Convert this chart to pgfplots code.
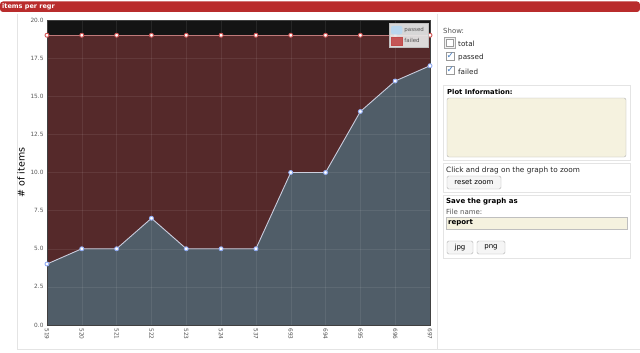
\documentclass[border=0pt]{standalone}
\usepackage{pgfplots}
\pgfplotsset{compat=1.18}
\usepackage{pgfplotstable}
\usepackage{fontspec}
\setmainfont{DejaVu Sans}
\definecolor{barred}{HTML}{B92C2C}
\definecolor{failcol}{HTML}{55292A}
\definecolor{passcol}{HTML}{505D68}
\definecolor{topblk}{HTML}{141414}
\definecolor{beige}{HTML}{F5F2DF}
\definecolor{panelline}{HTML}{E4E4E4}
\definecolor{txtgray}{HTML}{555555}
\definecolor{failline}{HTML}{C07A7A}
\definecolor{passline}{HTML}{C9CCDD}
\definecolor{checkblue}{HTML}{4A7FC0}
\definecolor{legpass}{HTML}{B7D7F0}
\definecolor{legfail}{HTML}{C24B4B}

\pgfplotstableread{
x passed total
0 4 19
1 5 19
2 5 19
3 7 19
4 5 19
5 5 19
6 5 19
7 10 19
8 10 19
9 14 19
10 16 19
11 17 19
}\data

\begin{document}
\begin{tikzpicture}[x=1pt,y=-1pt]
\useasboundingbox (0,0) rectangle (640,353);
\fill[white] (0,0) rectangle (640,353);
% title bar
\fill[barred, rounded corners=3pt] (0,1.5) rectangle (640,12);
\node[anchor=west, white, inner sep=0pt, font=\bfseries\fontsize{6.5}{7}\selectfont] at (2,7) {items per regr};
% panels
\draw[panelline] (17,14) -- (17,349) -- (437,349);
\draw[panelline] (437,14) -- (437,349);
\draw[panelline] (437,349) -- (640,349);

% axis
\begin{axis}[
  at={(47pt,-325pt)}, anchor=south west,
  scale only axis, width=383pt, height=305pt,
  xmin=0, xmax=11, ymin=0, ymax=20,
  axis background/.style={fill=topblk},
  axis line style={draw=black!75},
  axis on top,
  xtick={0,...,11},
  xticklabels={519,520,521,522,523,524,537,693,694,695,696,697},
  ytick={0,2.5,...,20},
  yticklabel style={/pgf/number format/.cd, fixed, fixed zerofill, precision=1},
  /pgf/number format/assume math mode=true,
  tick label style={font=\fontsize{5.8}{6}\selectfont, text=txtgray},
  xticklabel style={rotate=-90, anchor=west},
  major tick length=0pt,
  grid=major,
  major grid style={draw=white, opacity=0.08},
  ylabel={\# of items},
  ylabel style={font=\fontsize{9.5}{10}\selectfont, yshift=-1pt},
  legend style={at={(0.995,0.99)}, anchor=north east, fill=gray!18, fill opacity=0.92, text opacity=1, draw=gray!50, font=\fontsize{5.5}{6}\selectfont, text=txtgray, row sep=1pt, inner sep=2pt},
  legend cell align=left,
]
\addplot[fill=failcol, draw=none, forget plot] table[x=x, y=total] {\data} \closedcycle;
\addplot[fill=passcol, draw=none, forget plot] table[x=x, y=passed] {\data} \closedcycle;
\addplot[failline, line width=0.9pt, mark=*, mark size=2pt, mark options={fill=white, draw=failline!70!red}, forget plot, clip=false] table[x=x, y=total] {\data};
\addplot[passline, line width=0.9pt, mark=*, mark size=2pt, mark options={fill=white, draw=legpass!80!blue}, forget plot, clip=false] table[x=x, y=passed] {\data};
\addlegendimage{legend image code/.code={\fill[legpass, rounded corners=2pt] (0pt,-4pt) rectangle (11pt,4pt);}}
\addlegendentry{passed}
\addlegendimage{legend image code/.code={\fill[legfail] (0pt,-4pt) rectangle (11pt,4pt);}}
\addlegendentry{failed}
\end{axis}

% side panel
\node[anchor=west, inner sep=0pt, text=txtgray, font=\fontsize{7}{7}\selectfont] at (443,31) {Show:};
\draw[gray!70, fill=gray!10] (444,37) rectangle (455,48);
\draw[gray!80, fill=white] (446,39) rectangle (453,46);
\node[anchor=west, inner sep=0pt, font=\fontsize{7.2}{7}\selectfont, text=black!85] at (458,44) {total};
\draw[gray!80, fill=white] (446,52) rectangle (454,60);
\node[inner sep=0pt, text=checkblue, font=\fontsize{9}{9}\selectfont] at (450.5,55.5) {✓};
\node[anchor=west, inner sep=0pt, font=\fontsize{7.2}{7}\selectfont, text=black!85] at (458,58) {passed};
\draw[gray!80, fill=white] (446,66) rectangle (454,74);
\node[inner sep=0pt, text=checkblue, font=\fontsize{9}{9}\selectfont] at (450.5,69.5) {✓};
\node[anchor=west, inner sep=0pt, font=\fontsize{7.2}{7}\selectfont, text=black!85] at (458,72) {failed};

\draw[panelline] (443,85) rectangle (630,160);
\node[anchor=west, inner sep=0pt, font=\bfseries\fontsize{6.8}{7}\selectfont] at (447,92) {Plot Information:};
\draw[gray!60, fill=beige, rounded corners=2pt] (447,98) rectangle (626,157);

\draw[panelline] (443,163) rectangle (630,192);
\node[anchor=west, inner sep=0pt, font=\fontsize{7.3}{7}\selectfont, text=black!85] at (446,170.5) {Click and drag on the graph to zoom};
\draw[gray!60, fill=gray!8, rounded corners=1.5pt] (447,176) rectangle (501,189);
\node[inner sep=0pt, font=\fontsize{7}{7}\selectfont] at (474,182.5) {reset zoom};

\draw[panelline] (443,195) rectangle (630,258);
\node[anchor=west, inner sep=0pt, font=\bfseries\fontsize{7}{7}\selectfont] at (446,202) {Save the graph as};
\node[anchor=west, inner sep=0pt, text=txtgray, font=\fontsize{7}{7}\selectfont] at (446,212) {File name:};
\draw[gray!50, fill=beige] (446,217) rectangle (627,229);
\node[anchor=west, inner sep=0pt, font=\bfseries\fontsize{7}{7}\selectfont] at (448,223) {report};
\draw[gray!60, fill=gray!8, rounded corners=1.5pt] (447,241) rectangle (473,254);
\node[inner sep=0pt, font=\fontsize{7}{7}\selectfont] at (460,247.5) {jpg};
\draw[gray!60, fill=gray!8, rounded corners=1.5pt] (477,241) rectangle (505,254);
\node[inner sep=0pt, font=\fontsize{7}{7}\selectfont] at (491,247.5) {png};
\end{tikzpicture}
\end{document}
